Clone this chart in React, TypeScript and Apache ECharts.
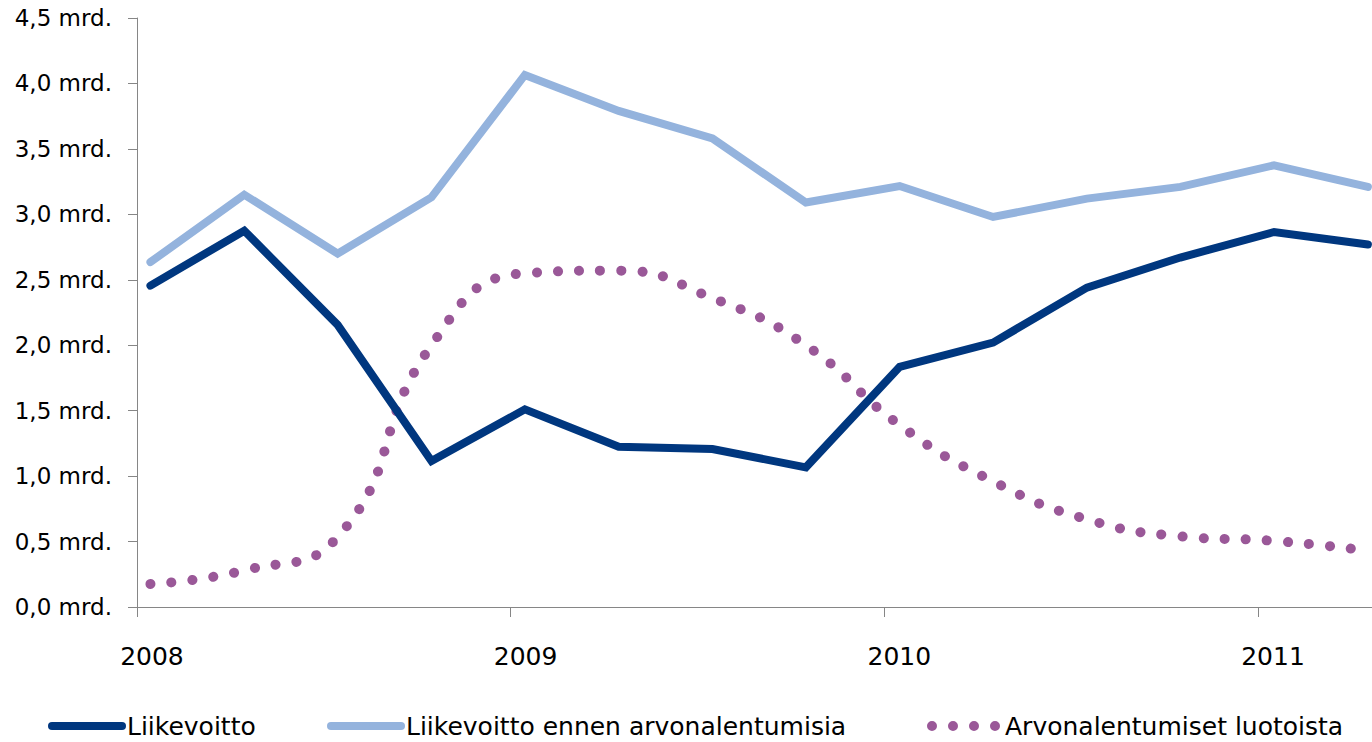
import React, { useEffect, useRef } from "react";
import * as echarts from "echarts";

// Quarter time positions (decimal years)
const quarterTimes = [
  2008.036, 2008.287, 2008.537, 2008.788,
  2009.038, 2009.289, 2009.54, 2009.79,
  2010.041, 2010.291, 2010.542, 2010.792,
  2011.043, 2011.294,
];
const yearLabels = [2008, 2009, 2010, 2011];

const liikevoitto = [2.455, 2.875, 2.155, 1.115, 1.51, 1.225, 1.207, 1.067, 1.835, 2.02, 2.44, 2.67, 2.865, 2.77];
const ennenArvonalentumisia = [2.635, 3.15, 2.7, 3.13, 4.065, 3.79, 3.58, 3.09, 3.216, 2.98, 3.12, 3.21, 3.375, 3.21];
const arvonalentumiset = [0.176, 0.28, 0.535, 2.0, 2.55, 2.57, 2.36, 2.0, 1.39, 0.96, 0.67, 0.54, 0.505, 0.43];

const seriesNames = ["Liikevoitto", "Liikevoitto ennen arvonalentumisia", "Arvonalentumiset luotoista"];

const FONT = "DejaVu Sans";

const dotsIcon =
  "path://M0,5a5,5 0 1,0 10,0a5,5 0 1,0 -10,0Z" +
  "M21,5a5,5 0 1,0 10,0a5,5 0 1,0 -10,0Z" +
  "M42,5a5,5 0 1,0 10,0a5,5 0 1,0 -10,0Z" +
  "M63,5a5,5 0 1,0 10,0a5,5 0 1,0 -10,0Z";

export default function App() {
  const ref = useRef<HTMLDivElement>(null);

  useEffect(() => {
    if (!ref.current) return;
    const chart = echarts.init(ref.current, null, { renderer: "svg" });
    const pair = (vals: number[]) => vals.map((v, i) => [quarterTimes[i], v]);
    const legendText = { fontFamily: FONT, fontSize: 25, color: "#000", lineHeight: 26 };
    const legendBase = { top: 713, padding: 0, itemHeight: 10, textStyle: legendText };
    chart.setOption({
      animation: false,
      backgroundColor: "#fff",
      grid: { left: 137, right: 0, top: 18, bottom: 135, containLabel: false },
      xAxis: {
        type: "value",
        min: 2008,
        max: 2011.305,
        interval: 1,
        axisLine: { show: true, lineStyle: { color: "#868686", width: 1 } },
        axisTick: {
          show: true,
          length: 10,
          customValues: yearLabels,
          lineStyle: { color: "#868686", width: 1 },
        },
        axisLabel: {
          customValues: yearLabels.map((y) => y + 0.04),
          formatter: (v: number) => String(Math.floor(v)),
          fontFamily: FONT,
          fontSize: 25,
          color: "#000",
          margin: 37,
        },
        splitLine: { show: false },
      },
      yAxis: {
        type: "value",
        min: 0,
        max: 4.5,
        interval: 0.5,
        axisLine: { show: true, lineStyle: { color: "#868686", width: 1 } },
        axisTick: { show: true, length: 9, lineStyle: { color: "#868686", width: 1 } },
        axisLabel: {
          formatter: (v: number) => v.toFixed(1).replace(".", ",") + " mrd.",
          fontFamily: FONT,
          fontSize: 23,
          color: "#000",
          margin: 25,
        },
        splitLine: { show: false },
      },
      legend: [
        { ...legendBase, data: [seriesNames[0]], left: 48, itemWidth: 70, lineStyle: { width: 8 } },
        { ...legendBase, data: [seriesNames[1]], left: 327, itemWidth: 70, lineStyle: { width: 8 } },
        {
          ...legendBase,
          data: [{ name: seriesNames[2], icon: dotsIcon }],
          left: 927,
          itemWidth: 73,
          itemHeight: 10,
        },
      ],
      series: [
        {
          name: seriesNames[1],
          type: "line",
          data: pair(ennenArvonalentumisia),
          symbol: "none",
          color: "#94B3DD",
          lineStyle: { width: 8, color: "#94B3DD", cap: "round", join: "miter" },
          z: 2,
        },
        {
          name: seriesNames[2],
          type: "line",
          data: pair(arvonalentumiset),
          symbol: "none",
          smooth: true,
          color: "#9A5898",
          itemStyle: { color: "#9A5898" },
          lineStyle: { width: 10, color: "#9A5898", type: [0.1, 21], cap: "round" },
          z: 3,
        },
        {
          name: seriesNames[0],
          type: "line",
          data: pair(liikevoitto),
          symbol: "none",
          color: "#00377F",
          lineStyle: { width: 8, color: "#00377F", cap: "round", join: "miter" },
          z: 4,
        },
      ],
    });
    return () => chart.dispose();
  }, []);

  return (
    <div
      ref={ref}
      style={{ position: "absolute", left: 0, top: 0, width: 1372, height: 742, background: "#fff" }}
    />
  );
}
